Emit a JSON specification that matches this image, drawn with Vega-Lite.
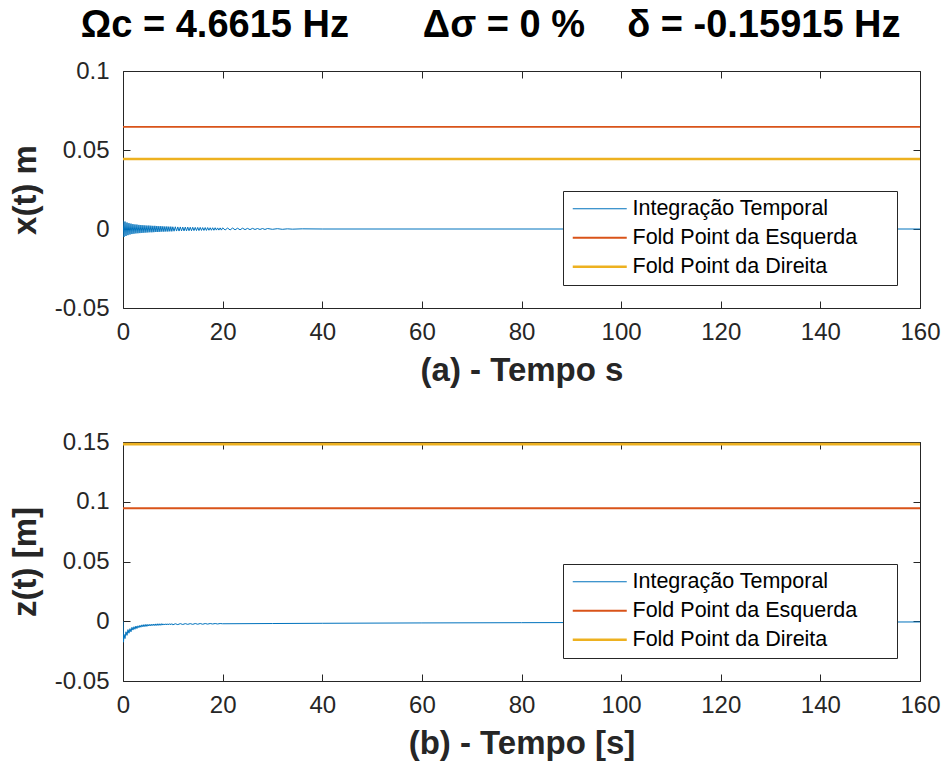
{
  "$schema": "https://vega.github.io/schema/vega-lite/v6.json",
  "padding": {"left": 9, "top": 7, "right": 21, "bottom": 8},
  "title": {"text": "Ωc = 4.6615 Hz\u00a0\u00a0\u00a0\u00a0\u00a0\u00a0\u00a0Δσ = 0 %\u00a0\u00a0\u00a0\u00a0δ = -0.15915 Hz", "fontSize": 38, "fontWeight": "bold", "font": "Liberation Sans", "color": "black", "anchor": "middle", "dx": 16, "offset": 14},
  "bounds": "flush",
  "spacing": 134,
  "datasets": {
    "xs": [
      {"s":"I","t":0,"v":0.0055},{"s":"I","t":0.2,"v":-0.005},{"s":"I","t":0.4,"v":0.0047},{"s":"I","t":0.6,"v":-0.0044},{"s":"I","t":0.8,"v":0.0041},{"s":"I","t":1.0,"v":-0.0039},{"s":"I","t":1.2,"v":0.0037},{"s":"I","t":1.4,"v":-0.0035},{"s":"I","t":1.6,"v":0.0034},{"s":"I","t":1.8,"v":-0.0032},
      {"s":"I","t":2.0,"v":0.0031},{"s":"I","t":2.2,"v":-0.003},{"s":"I","t":2.4,"v":0.0029},{"s":"I","t":2.6,"v":-0.0028},{"s":"I","t":2.8,"v":0.0028},{"s":"I","t":3.0,"v":-0.0027},{"s":"I","t":3.2,"v":0.0026},{"s":"I","t":3.4,"v":-0.0026},{"s":"I","t":3.6,"v":0.0025},{"s":"I","t":3.8,"v":-0.0025},
      {"s":"I","t":4.0,"v":0.0024},{"s":"I","t":4.2,"v":-0.0024},{"s":"I","t":4.4,"v":0.0023},{"s":"I","t":4.6,"v":-0.0023},{"s":"I","t":4.8,"v":0.0022},{"s":"I","t":5.0,"v":-0.0022},{"s":"I","t":5.2,"v":0.0022},{"s":"I","t":5.4,"v":-0.0021},{"s":"I","t":5.6,"v":0.0021},{"s":"I","t":5.8,"v":-0.0021},
      {"s":"I","t":6.0,"v":0.002},{"s":"I","t":6.2,"v":-0.002},{"s":"I","t":6.4,"v":0.002},{"s":"I","t":6.6,"v":-0.0019},{"s":"I","t":6.8,"v":0.0019},{"s":"I","t":7.0,"v":-0.0019},{"s":"I","t":7.2,"v":0.0018},{"s":"I","t":7.4,"v":-0.0018},{"s":"I","t":7.6,"v":0.0018},{"s":"I","t":7.8,"v":-0.0017},
      {"s":"I","t":8.0,"v":0.0017},{"s":"I","t":8.2,"v":-0.0017},{"s":"I","t":8.4,"v":0.0016},{"s":"I","t":8.6,"v":-0.0016},{"s":"I","t":8.8,"v":0.0016},{"s":"I","t":9.0,"v":-0.0016},{"s":"I","t":9.2,"v":0.0015},{"s":"I","t":9.4,"v":-0.0015},{"s":"I","t":9.6,"v":0.0015},{"s":"I","t":9.8,"v":-0.0015},
      {"s":"I","t":10.0,"v":0.0014},{"s":"I","t":10.25,"v":-0.0014},{"s":"I","t":10.5,"v":0.0014},{"s":"I","t":10.75,"v":-0.0013},{"s":"I","t":11.0,"v":0.0013},{"s":"I","t":11.25,"v":-0.0013},{"s":"I","t":11.5,"v":0.0013},{"s":"I","t":11.75,"v":-0.0012},{"s":"I","t":12.0,"v":0.0012},{"s":"I","t":12.25,"v":-0.0012},
      {"s":"I","t":12.5,"v":0.0012},{"s":"I","t":12.75,"v":-0.0012},{"s":"I","t":13.0,"v":0.0012},{"s":"I","t":13.25,"v":-0.0011},{"s":"I","t":13.5,"v":0.0011},{"s":"I","t":13.75,"v":-0.0011},{"s":"I","t":14.0,"v":0.0011},{"s":"I","t":14.25,"v":-0.001},{"s":"I","t":14.5,"v":0.001},{"s":"I","t":14.75,"v":-0.001},
      {"s":"I","t":15.0,"v":0.001},{"s":"I","t":15.25,"v":-0.001},{"s":"I","t":15.5,"v":0.001},{"s":"I","t":15.75,"v":-0.0009},{"s":"I","t":16.0,"v":0.0009},{"s":"I","t":16.25,"v":-0.0009},{"s":"I","t":16.5,"v":0.0009},{"s":"I","t":16.75,"v":-0.0009},{"s":"I","t":17.0,"v":0.0009},{"s":"I","t":17.25,"v":-0.0008},
      {"s":"I","t":17.5,"v":0.0008},{"s":"I","t":17.75,"v":-0.0008},{"s":"I","t":18.0,"v":0.0008},{"s":"I","t":18.25,"v":-0.0008},{"s":"I","t":18.5,"v":0.0008},{"s":"I","t":18.75,"v":-0.0007},{"s":"I","t":19.0,"v":0.0007},{"s":"I","t":19.25,"v":-0.0007},{"s":"I","t":19.5,"v":0.0007},{"s":"I","t":19.75,"v":-0.0007},
      {"s":"I","t":20.0,"v":0.0007},{"s":"I","t":20.5,"v":-0.0006},{"s":"I","t":21.0,"v":0.0006},{"s":"I","t":21.5,"v":-0.0006},{"s":"I","t":22.0,"v":0.0006},{"s":"I","t":22.5,"v":-0.0005},{"s":"I","t":23.0,"v":0.0005},{"s":"I","t":23.5,"v":-0.0005},{"s":"I","t":24.0,"v":0.0005},{"s":"I","t":24.5,"v":-0.0004},
      {"s":"I","t":25.0,"v":0.0004},{"s":"I","t":25.5,"v":-0.0004},{"s":"I","t":26.0,"v":0.0004},{"s":"I","t":26.5,"v":-0.0003},{"s":"I","t":27.0,"v":0.0003},{"s":"I","t":27.5,"v":-0.0003},{"s":"I","t":28.0,"v":0.0003},{"s":"I","t":28.5,"v":-0.0003},{"s":"I","t":29.0,"v":0.0003},{"s":"I","t":30.0,"v":-0.0002},
      {"s":"I","t":31.0,"v":0.0002},{"s":"I","t":32.0,"v":-0.0002},{"s":"I","t":33.0,"v":0.0001},{"s":"I","t":34.0,"v":-0.0001},{"s":"I","t":36.0,"v":0.0001},{"s":"I","t":40.0,"v":0},{"s":"I","t":160,"v":0},
      {"s":"E","t":0,"v":0.0646},{"s":"E","t":160,"v":0.0646},
      {"s":"D","t":0,"v":0.0443},{"s":"D","t":160,"v":0.0443}
    ],
    "zs": [
      {"s":"I","t":0,"v":0},{"s":"I","t":0.1,"v":-0.0175},{"s":"I","t":0.2,"v":-0.011},{"s":"I","t":0.4,"v":-0.0145},{"s":"I","t":0.6,"v":-0.0088},{"s":"I","t":0.8,"v":-0.0118},{"s":"I","t":1.0,"v":-0.007},{"s":"I","t":1.2,"v":-0.01},{"s":"I","t":1.4,"v":-0.0062},{"s":"I","t":1.6,"v":-0.0088},{"s":"I","t":1.8,"v":-0.0051},
      {"s":"I","t":2.0,"v":-0.0074},{"s":"I","t":2.2,"v":-0.0046},{"s":"I","t":2.4,"v":-0.0067},{"s":"I","t":2.6,"v":-0.004},{"s":"I","t":2.8,"v":-0.0061},{"s":"I","t":3.0,"v":-0.0038},{"s":"I","t":3.2,"v":-0.0054},{"s":"I","t":3.4,"v":-0.0034},{"s":"I","t":3.6,"v":-0.005},{"s":"I","t":3.8,"v":-0.003},
      {"s":"I","t":4.0,"v":-0.0047},{"s":"I","t":4.2,"v":-0.0028},{"s":"I","t":4.4,"v":-0.0045},{"s":"I","t":4.6,"v":-0.0026},{"s":"I","t":4.8,"v":-0.0043},{"s":"I","t":5.0,"v":-0.0026},{"s":"I","t":5.2,"v":-0.004},{"s":"I","t":5.4,"v":-0.0025},{"s":"I","t":5.6,"v":-0.0039},{"s":"I","t":5.8,"v":-0.0024},
      {"s":"I","t":6.0,"v":-0.0037},{"s":"I","t":6.2,"v":-0.0023},{"s":"I","t":6.4,"v":-0.0037},{"s":"I","t":6.6,"v":-0.0022},{"s":"I","t":6.8,"v":-0.0036},{"s":"I","t":7.0,"v":-0.0021},{"s":"I","t":7.2,"v":-0.0035},{"s":"I","t":7.4,"v":-0.0021},{"s":"I","t":7.6,"v":-0.0034},{"s":"I","t":7.8,"v":-0.002},
      {"s":"I","t":8.0,"v":-0.0032},{"s":"I","t":8.2,"v":-0.0022},{"s":"I","t":8.4,"v":-0.0031},{"s":"I","t":8.6,"v":-0.0021},{"s":"I","t":8.8,"v":-0.0031},{"s":"I","t":9.0,"v":-0.0021},{"s":"I","t":9.2,"v":-0.003},{"s":"I","t":9.4,"v":-0.002},{"s":"I","t":9.6,"v":-0.003},{"s":"I","t":9.8,"v":-0.002},
      {"s":"I","t":10.0,"v":-0.003},{"s":"I","t":10.5,"v":-0.0021},{"s":"I","t":11.0,"v":-0.0028},{"s":"I","t":11.5,"v":-0.002},{"s":"I","t":12.0,"v":-0.0027},{"s":"I","t":12.5,"v":-0.002},{"s":"I","t":13.0,"v":-0.0026},{"s":"I","t":13.5,"v":-0.002},{"s":"I","t":14.0,"v":-0.0026},{"s":"I","t":14.5,"v":-0.0019},
      {"s":"I","t":15.0,"v":-0.0025},{"s":"I","t":15.5,"v":-0.0019},{"s":"I","t":16.0,"v":-0.0025},{"s":"I","t":16.5,"v":-0.0019},{"s":"I","t":17.0,"v":-0.0024},{"s":"I","t":17.5,"v":-0.0019},{"s":"I","t":18.0,"v":-0.0023},{"s":"I","t":18.5,"v":-0.0019},{"s":"I","t":19.0,"v":-0.0023},{"s":"I","t":19.5,"v":-0.0019},
      {"s":"I","t":20.0,"v":-0.0021},{"s":"I","t":30.0,"v":-0.0019},{"s":"I","t":40.0,"v":-0.0017},{"s":"I","t":60.0,"v":-0.0014},{"s":"I","t":80.0,"v":-0.0012},{"s":"I","t":100.0,"v":-0.001},{"s":"I","t":120.0,"v":-0.0008},{"s":"I","t":140.0,"v":-0.0007},{"s":"I","t":160.0,"v":-0.0006},
      {"s":"E","t":0,"v":0.0946},{"s":"E","t":160,"v":0.0946},
      {"s":"D","t":0,"v":0.1483},{"s":"D","t":160,"v":0.1483}
    ]
  },
  "vconcat": [
    {
      "width": 797, "height": 237,
      "data": {"name": "xs"},
      "layer": [
        {
          "mark": {"type": "line", "clip": true},
          "encoding": {
            "x": {"field": "t", "type": "quantitative", "scale": {"domain": [0, 160], "nice": false}, "axis": {"values": [0,20,40,60,80,100,120,140,160], "title": "(a) - Tempo s", "labelExpr": "'' + datum.value", "labelPadding": 19, "titlePadding": 10}},
            "y": {"field": "v", "type": "quantitative", "scale": {"domain": [-0.05, 0.1], "nice": false, "zero": false}, "axis": {"values": [-0.05,0,0.05,0.1], "title": "x(t) m", "labelExpr": "'' + datum.value", "labelPadding": 21}},
            "color": {"field": "s", "type": "nominal", "scale": {"domain": ["I","E","D"], "range": ["#0072BD","#D95319","#EDB120"]}, "legend": {"labelExpr": "(datum.label == 'I' ? 'Integração Temporal' : datum.label == 'E' ? 'Fold Point da Esquerda' : 'Fold Point da Direita') + '\u2800\u2800'"}},
            "strokeWidth": {"field": "s", "type": "nominal", "scale": {"domain": ["I","E","D"], "range": [1, 2.7, 2.7]}, "legend": {"labelExpr": "(datum.label == 'I' ? 'Integração Temporal' : datum.label == 'E' ? 'Fold Point da Esquerda' : 'Fold Point da Direita') + '\u2800\u2800'"}}
          }
        },
        {
          "mark": {"type": "line", "strokeOpacity": 0},
          "encoding": {
            "x": {"field": "t", "type": "quantitative", "axis": {"orient": "top", "values": [0,20,40,60,80,100,120,140,160], "labels": false, "title": null}},
            "y": {"field": "v", "type": "quantitative", "axis": {"orient": "right", "values": [-0.05,0,0.05,0.1], "labels": false, "title": null}}
          }
        }
      ],
      "resolve": {"axis": {"x": "independent", "y": "independent"}}
    },
    {
      "width": 797, "height": 239,
      "data": {"name": "zs"},
      "layer": [
        {
          "mark": {"type": "line", "clip": true},
          "encoding": {
            "x": {"field": "t", "type": "quantitative", "scale": {"domain": [0, 160], "nice": false}, "axis": {"values": [0,20,40,60,80,100,120,140,160], "title": "(b) - Tempo [s]", "labelExpr": "'' + datum.value", "labelPadding": 19, "titlePadding": 10}},
            "y": {"field": "v", "type": "quantitative", "scale": {"domain": [-0.05, 0.15], "nice": false, "zero": false}, "axis": {"values": [-0.05,0,0.05,0.1,0.15], "title": "z(t) [m]", "labelExpr": "'' + datum.value", "labelPadding": 21}},
            "color": {"field": "s", "type": "nominal", "scale": {"domain": ["I","E","D"], "range": ["#0072BD","#D95319","#EDB120"]}, "legend": {"labelExpr": "(datum.label == 'I' ? 'Integração Temporal' : datum.label == 'E' ? 'Fold Point da Esquerda' : 'Fold Point da Direita') + '\u2800\u2800'"}},
            "strokeWidth": {"field": "s", "type": "nominal", "scale": {"domain": ["I","E","D"], "range": [1, 2.7, 2.7]}, "legend": {"labelExpr": "(datum.label == 'I' ? 'Integração Temporal' : datum.label == 'E' ? 'Fold Point da Esquerda' : 'Fold Point da Direita') + '\u2800\u2800'"}}
          }
        },
        {
          "mark": {"type": "line", "strokeOpacity": 0},
          "encoding": {
            "x": {"field": "t", "type": "quantitative", "axis": {"orient": "top", "values": [0,20,40,60,80,100,120,140,160], "labels": false, "title": null}},
            "y": {"field": "v", "type": "quantitative", "axis": {"orient": "right", "values": [-0.05,0,0.05,0.1,0.15], "labels": false, "title": null}}
          }
        }
      ],
      "resolve": {"axis": {"x": "independent", "y": "independent"}}
    }
  ],
  "resolve": {"legend": {"color": "independent", "strokeWidth": "independent"}},
  "config": {
    "font": "Liberation Sans",
    "view": {"stroke": null},
    "axis": {
      "grid": false, "labelFlush": false, "labelOverlap": false,
      "domainColor": "#262626", "domainWidth": 1,
      "tickColor": "#262626", "tickWidth": 1, "tickSize": -7,
      "labelColor": "#262626", "labelFont": "Liberation Sans", "labelFontSize": 24,
      "titleColor": "#262626", "titleFont": "Liberation Sans", "titleFontSize": 33, "titleFontWeight": "bold", "titlePadding": 12
    },
    "legend": {
      "orient": "bottom-right", "offset": 23, "title": null,
      "strokeColor": "#262626", "fillColor": "white", "padding": 7,
      "symbolType": "M-9,0H9", "symbolSize": 36, "symbolOffset": 19,
      "labelFont": "Liberation Sans", "labelFontSize": 21.5, "labelColor": "black", "labelLimit": 400,
      "labelOffset": 22, "rowPadding": 6
    }
  }
}
